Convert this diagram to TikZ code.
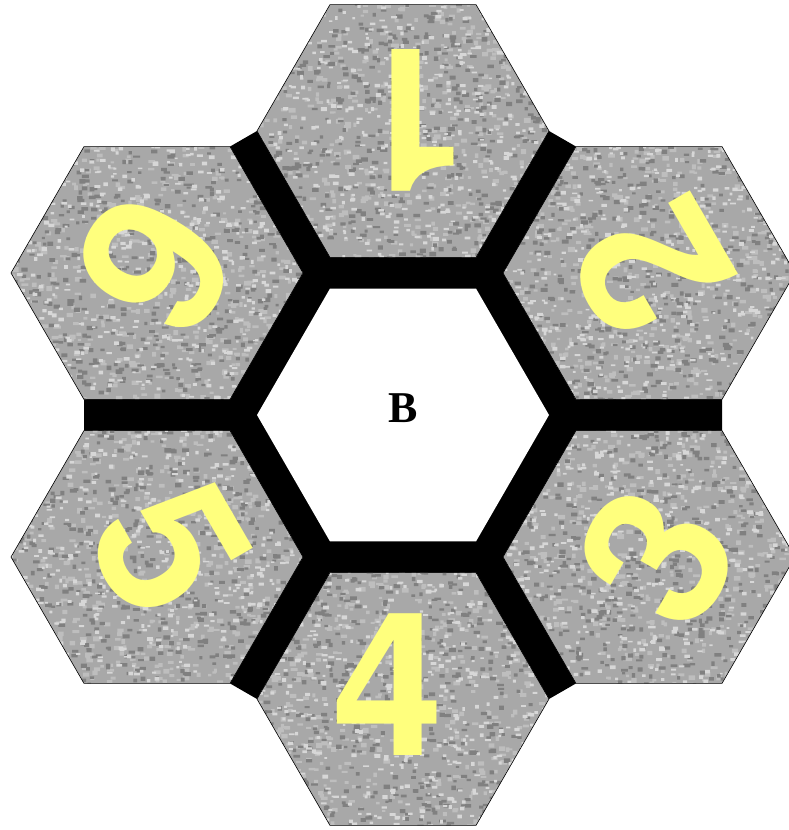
\documentclass[tikz,border=0pt]{standalone}
\usepackage{fontspec}
\setmainfont{Liberation Serif}
\newfontfamily\digitfont{TeX Gyre Heros}
\usetikzlibrary{shapes.geometric,calc}
\pgfdeclarelayer{background}
\pgfsetlayers{background,main}
\definecolor{stone}{RGB}{168,168,168}
\definecolor{stonelight}{RGB}{215,215,215}
\definecolor{stonemid}{RGB}{190,190,190}
\definecolor{stonedark}{RGB}{128,128,128}
\definecolor{numyellow}{RGB}{255,255,125}
\begin{document}
\begin{tikzpicture}[x=1pt,y=1pt,
  hexbase/.style={shape=regular polygon, regular polygon sides=6,
    minimum size=292pt, inner sep=0pt, outer sep=0pt},
  stonehex/.style={hexbase, fill=stone, draw=black, line width=0.6pt,
    path picture={\pgfmathsetseed{#1}%
      \coordinate (pc) at (path picture bounding box.center);
      \fill[stonemid] \foreach \k in {1,...,550}{
        ($(pc)+({rand*150},{rand*130})$) rectangle ++({3+4*rnd},{2+3*rnd})};
      \fill[stonedark] \foreach \k in {1,...,520}{
        ($(pc)+({rand*150},{rand*130})$) rectangle ++({3+4*rnd},{2+2.5*rnd})};
      \fill[stonelight] \foreach \k in {1,...,520}{
        ($(pc)+({rand*150},{rand*130})$) rectangle ++({2.5+3.5*rnd},{1.5+2.5*rnd})};
    }},
  numstyle/.style={text=numyellow, inner sep=0pt,
    font={\digitfont\bfseries\fontsize{200}{200}\selectfont}},
  labelstyle/.style={inner sep=0pt, font={\bfseries\fontsize{44}{44}\selectfont}}
]
\useasboundingbox (0,0) rectangle (789,830);

% outer hexes
\node[stonehex=11] (h1) at (403,699) {};
\node[stonehex=22] (h2) at (649,557) {};
\node[stonehex=33] (h3) at (649,273) {};
\node[stonehex=44] (h4) at (403,131) {};
\node[stonehex=55] (h5) at (157,273) {};
\node[stonehex=66] (h6) at (157,557) {};

% central hex
\node[hexbase, fill=white] (hc) at (403,415) {};

% black separating bands
\begin{pgfonlayer}{background}
  \fill[black] (h6.60) -- (h1.180) -- (h1.0) -- (h2.120) -- (h2.300) -- (h3.60)
    -- (h3.240) -- (h4.0) -- (h4.180) -- (h5.300) -- (h5.120) -- (h6.240) -- cycle;
\end{pgfonlayer}

% numbers
\node[numstyle, rotate=180] (n1) at (412,710) {1};
\node[numstyle, rotate=120] (n2) at (651,562) {2};
\node[numstyle, rotate=60]  (n3) at (657,273) {3};
\node[numstyle]             (n4) at (388,145) {4};
\node[numstyle, rotate=-60] (n5) at (170,282) {5};
\node[numstyle, rotate=-120] (n6) at (155,565) {6};

\node[labelstyle] (lbl) at (403,421.5) {B};
\end{tikzpicture}
\end{document}
